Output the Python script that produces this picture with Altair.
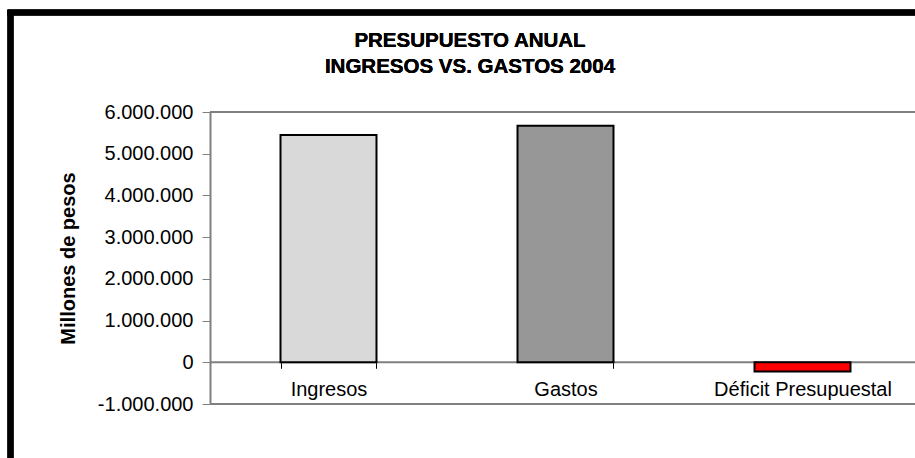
import altair as alt
import pandas as pd

# ---- data ----
categorias = ["Ingresos", "Gastos", "Déficit Presupuestal"]
valores = [5450000, 5673000, -223000]
colores = ["#D9D9D9", "#979797", "#FF0000"]
marcas_y = [-1000000, 0, 1000000, 2000000, 3000000, 4000000, 5000000, 6000000]
limites_y = [-1000000, 6000000]
lineas_marco = [6000000, 0, -1000000]
titulo = ["PRESUPUESTO ANUAL", "INGRESOS VS. GASTOS 2004"]
titulo_y = "Millones de pesos"

df = pd.DataFrame({"categoria": categorias, "valor": valores, "color": colores})
df_lineas = pd.DataFrame({"y": lineas_marco})

W, H = 705, 292
FONT = "Liberation Sans"
FS = 20

x_scale = alt.Scale(domain=categorias, range=[0, 711], paddingInner=0.595, paddingOuter=0.2975)
y_scale = alt.Scale(domain=limites_y, nice=False, zero=False)

label_expr = "replace(replace(format(datum.value, ','), regexp(',', 'g'), '.'), '\u2212', '-')"

zero_offset = -H * (0 - limites_y[0]) / (limites_y[1] - limites_y[0])

lineas = alt.Chart(df_lineas).mark_rule(color="#808080", strokeWidth=2).encode(
    y=alt.Y("y:Q", scale=y_scale)
)

barras = alt.Chart(df).mark_bar(stroke="black", strokeWidth=2).encode(
    x=alt.X(
        "categoria:N",
        scale=x_scale,
        sort=categorias,
        axis=alt.Axis(
            title=None,
            orient="bottom",
            offset=zero_offset,
            domain=False,
            tickBand="extent",
            tickSize=6,
            tickColor="black",
            tickWidth=1,
            labelFont=FONT,
            labelFontSize=FS,
            labelColor="black",
            labelPadding=11,
            labelAngle=0,
        ),
    ),
    y=alt.Y(
        "valor:Q",
        scale=y_scale,
        axis=alt.Axis(
            values=marcas_y,
            labelExpr=label_expr,
            grid=False,
            domainColor="#808080",
            domainWidth=2,
            tickColor="#808080",
            tickSize=8,
            tickWidth=1,
            labelFont=FONT,
            labelFontSize=FS,
            labelColor="black",
            labelPadding=9,
            title=titulo_y,
            titleFont=FONT,
            titleFontSize=FS,
            titleFontWeight="bold",
            titleColor="black",
            titleAngle=270,
            titleX=-142,
            titleY=146,
            titleAlign="center",
            titleBaseline="middle",
        ),
    ),
    y2=alt.datum(0),
    color=alt.Color("color:N", scale=None),
)

titulo_1 = alt.Chart(df_lineas).mark_text(
    font=FONT, fontSize=20.5, fontWeight="bold", color="black", align="center", baseline="alphabetic"
).encode(x=alt.value(260), y=alt.value(-65.3), text=alt.datum(titulo[0]))
titulo_2 = alt.Chart(df_lineas).mark_text(
    font=FONT, fontSize=20.5, fontWeight="bold", color="black", align="center", baseline="alphabetic"
).encode(x=alt.value(260), y=alt.value(-38.7), text=alt.datum(titulo[1]))

borde_izq = alt.Chart(df_lineas).mark_rule(color="black", strokeWidth=6).encode(
    x=alt.value(-199.5), y=alt.value(-102), y2=alt.value(360)
)
borde_sup = alt.Chart(df_lineas).mark_rule(color="black", strokeWidth=6).encode(
    x=alt.value(-202.5), x2=alt.value(720), y=alt.value(-99.5)
)

chart = alt.layer(lineas, barras, titulo_1, titulo_2, borde_izq, borde_sup).properties(
    width=W,
    height=H,
    autosize="none",
    padding={"left": 210, "top": 112, "right": 0, "bottom": 54},
    background="white",
).configure_view(strokeWidth=0)

chart.save("out.html", embed_options={"renderer": "svg", "actions": False})
